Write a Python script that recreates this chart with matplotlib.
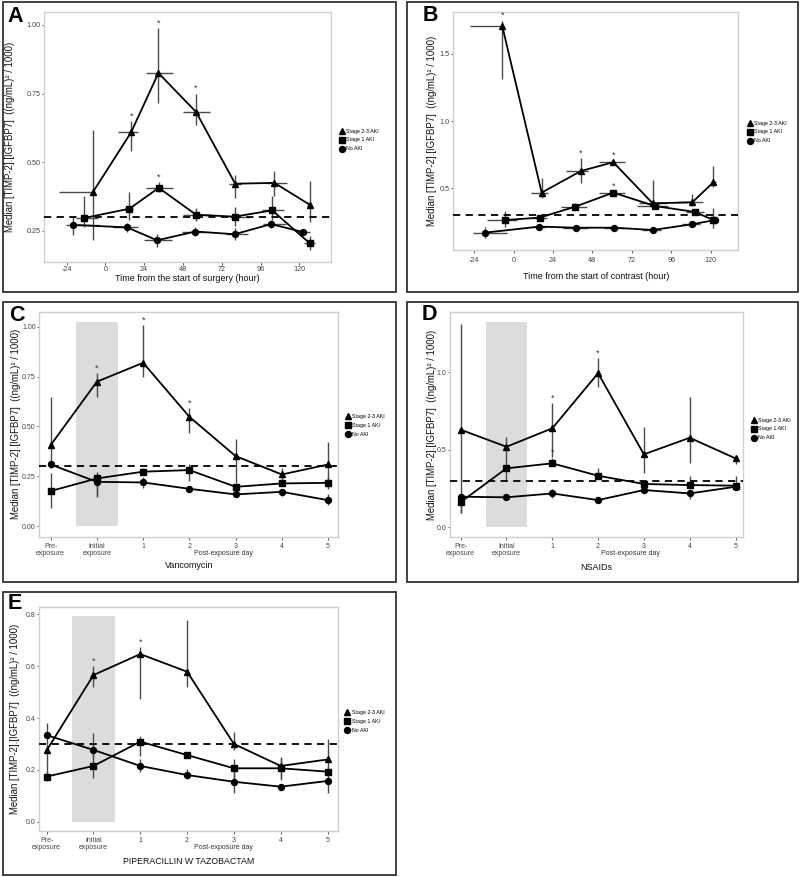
import matplotlib
matplotlib.use("Agg")
import matplotlib.pyplot as plt
from matplotlib.patches import Rectangle
from matplotlib.lines import Line2D

plt.rcParams["font.family"] = ["Liberation Sans", "DejaVu Sans"]
plt.rcParams["axes.unicode_minus"] = False

W, H = 800, 877

series_names = ["Stage 2-3 AKI", "Stage 1 AKI", "No AKI"]
series_markers = ["^", "s", "o"]
ylabel = "Median [TIMP-2].[IGFBP7]  ((ng/mL)\u00b2 / 1000)"
drug_ticks = ["Pre-\nexposure", "Initial\nexposure", "1", "2", "3", "4", "5"]

# ---- Panel A: surgery (hours) ----
a_x = [[-7.8, 15.9, 32.8, 56.1, 80.3, 104.6, 126.3],
       [-13.4, 14.9, 33.0, 56.1, 79.9, 103.2, 126.3],
       [-19.8, 13.4, 32.0, 55.7, 79.9, 102.6, 122.2]]
a_y = [[0.391, 0.609, 0.825, 0.683, 0.422, 0.425, 0.346],
       [0.297, 0.331, 0.407, 0.309, 0.302, 0.325, 0.206],
       [0.272, 0.263, 0.216, 0.248, 0.238, 0.275, 0.246]]
a_xlo = [[-28.5, 7.6, 25.2, 47.9, 76.5, 99.5, 124.5],
         [-18.2, 12.0, 25.2, 48.0, 76.9, 97.1, 123.2],
         [-24.4, 4.5, 24.1, 47.5, 74.7, 97.5, 119.0]]
a_xhi = [[-7.8, 20.0, 41.7, 64.8, 84.0, 112.3, 128.0],
         [-4.7, 17.0, 41.7, 65.8, 89.3, 110.5, 129.4],
         [-3.7, 20.0, 41.3, 62.0, 88.1, 111.5, 126.3]]
a_ylo = [[0.216, 0.540, 0.714, 0.637, 0.370, 0.376, 0.282],
         [0.263, 0.291, 0.390, 0.285, 0.267, 0.291, 0.180],
         [0.237, 0.245, 0.192, 0.230, 0.218, 0.260, 0.235]]
a_yhi = [[0.619, 0.649, 0.989, 0.750, 0.453, 0.467, 0.433],
         [0.376, 0.391, 0.427, 0.334, 0.337, 0.379, 0.231],
         [0.303, 0.278, 0.240, 0.265, 0.262, 0.291, 0.258]]
a_stars = [(0, 1), (0, 2), (0, 3), (1, 2)]

# ---- Panel B: contrast (hours) ----
b_x = [[-6.9, 17.1, 41.0, 60.7, 84.7, 108.8, 121.6],
       [-5.1, 16.0, 37.6, 60.7, 86.1, 110.4, 121.6],
       [-17.5, 15.6, 37.8, 61.1, 84.7, 108.4, 122.6]]
b_y = [[1.708, 0.468, 0.629, 0.694, 0.388, 0.396, 0.545],
       [0.264, 0.282, 0.364, 0.468, 0.368, 0.324, 0.264],
       [0.170, 0.215, 0.207, 0.207, 0.190, 0.232, 0.264]]
b_xlo = [[-26.6, 10.6, 31.9, 52.2, 76.6, 99.2, 120.0],
         [-16.0, 11.0, 28.6, 52.2, 75.4, 104.9, 119.0],
         [-24.9, 12.0, 30.0, 55.0, 78.0, 102.3, 120.5]]
b_xhi = [[-6.9, 21.1, 45.5, 67.8, 93.0, 115.3, 123.0],
         [1.8, 20.1, 44.5, 67.8, 94.2, 115.9, 124.5],
         [-3.8, 19.5, 45.0, 67.0, 90.0, 113.4, 124.5]]
b_ylo = [[1.314, 0.430, 0.542, 0.680, 0.351, 0.370, 0.510],
         [0.215, 0.260, 0.345, 0.455, 0.350, 0.300, 0.202],
         [0.130, 0.200, 0.195, 0.195, 0.180, 0.220, 0.250]]
b_yhi = [[1.748, 0.580, 0.723, 0.710, 0.562, 0.458, 0.666],
         [0.334, 0.300, 0.390, 0.480, 0.380, 0.345, 0.351],
         [0.215, 0.230, 0.220, 0.220, 0.200, 0.245, 0.280]]
b_stars = [(0, 0), (0, 2), (0, 3), (1, 3)]

# ---- Panel C: Vancomycin ----
c_y = [[0.406, 0.724, 0.819, 0.548, 0.351, 0.259, 0.309],
       [0.176, 0.239, 0.273, 0.281, 0.197, 0.214, 0.217],
       [0.309, 0.222, 0.219, 0.187, 0.159, 0.172, 0.130]]
c_ylo = [[0.300, 0.645, 0.746, 0.468, 0.217, 0.230, 0.190],
         [0.089, 0.150, 0.255, 0.226, 0.185, 0.200, 0.185],
         [0.290, 0.147, 0.193, 0.175, 0.148, 0.150, 0.105]]
c_yhi = [[0.649, 0.769, 1.008, 0.590, 0.436, 0.290, 0.423],
         [0.265, 0.272, 0.290, 0.311, 0.210, 0.230, 0.250],
         [0.325, 0.260, 0.244, 0.200, 0.170, 0.185, 0.160]]
c_stars = [(0, 1), (0, 2), (0, 3)]

# ---- Panel D: NSAIDs ----
d_y = [[0.630, 0.520, 0.639, 0.994, 0.471, 0.578, 0.445],
       [0.163, 0.381, 0.413, 0.333, 0.280, 0.273, 0.269],
       [0.198, 0.194, 0.219, 0.176, 0.241, 0.219, 0.262]]
d_ylo = [[0.090, 0.440, 0.456, 0.907, 0.348, 0.417, 0.410],
         [0.090, 0.300, 0.400, 0.320, 0.260, 0.260, 0.250],
         [0.180, 0.185, 0.190, 0.165, 0.225, 0.180, 0.245]]
d_yhi = [[1.310, 0.585, 0.800, 1.090, 0.650, 0.843, 0.460],
         [0.200, 0.450, 0.450, 0.380, 0.300, 0.330, 0.330],
         [0.210, 0.205, 0.245, 0.190, 0.255, 0.240, 0.280]]
d_stars = [(0, 2), (0, 3), (1, 2)]

# ---- Panel E: Piperacillin w tazobactam ----
e_y = [[0.275, 0.566, 0.647, 0.579, 0.300, 0.215, 0.240],
       [0.174, 0.215, 0.309, 0.257, 0.206, 0.206, 0.193],
       [0.334, 0.277, 0.215, 0.180, 0.154, 0.135, 0.157]]
e_ylo = [[0.160, 0.518, 0.472, 0.518, 0.275, 0.170, 0.180],
         [0.155, 0.170, 0.255, 0.245, 0.165, 0.160, 0.180],
         [0.300, 0.250, 0.190, 0.165, 0.110, 0.125, 0.110]]
e_yhi = [[0.300, 0.600, 0.675, 0.778, 0.347, 0.245, 0.320],
         [0.195, 0.341, 0.332, 0.270, 0.240, 0.250, 0.210],
         [0.379, 0.300, 0.240, 0.205, 0.190, 0.145, 0.200]]
e_stars = [(0, 1), (0, 2)]

threshold = 0.3
band_tops = {"C": 1.022, "D": 1.323, "E": 0.794}

fig = plt.figure(figsize=(W / 100, H / 100), dpi=100)


def px_axes(l, r, t, b):
    return fig.add_axes([l / W, 1 - b / H, (r - l) / W, (b - t) / H])


def panel_box(l, t, r, b, letter, lx, ly):
    fig.patches.append(Rectangle((l / W, 1 - b / H), (r - l) / W, (b - t) / H,
                                 transform=fig.transFigure, fill=False,
                                 edgecolor="#333333", linewidth=1.3))
    fig.text(lx / W, 1 - ly / H, letter, fontsize=15.5, fontweight="bold",
             ha="left", va="top")


def style_axes(ax, xpad):
    for s in ax.spines.values():
        s.set_color("#cfcfcf")
        s.set_linewidth(1.0)
    ax.tick_params(axis="both", colors="#444444", labelsize=5.2,
                   length=1.8, width=0.6)
    ax.tick_params(axis="x", pad=xpad)
    ax.tick_params(axis="y", pad=0.8)
    ax.set_facecolor("white")


def draw_series(ax, xs, ys, ylo, yhi, xlo=None, xhi=None, stars=()):
    for i in range(3):
        yerr = [[y - lo for y, lo in zip(ys[i], ylo[i])],
                [hi - y for y, hi in zip(ys[i], yhi[i])]]
        xerr = None
        if xlo is not None:
            xerr = [[x - lo for x, lo in zip(xs[i], xlo[i])],
                    [hi - x for x, hi in zip(xs[i], xhi[i])]]
        ax.errorbar(xs[i], ys[i], yerr=yerr, xerr=xerr, fmt="none",
                    ecolor="#4a4a4a", elinewidth=1.0, capsize=0, zorder=2)
        ms = 5 if series_markers[i] == "^" else 4.3
        ax.plot(xs[i], ys[i], color="black", lw=1.3,
                marker=series_markers[i], ms=ms, zorder=3)
    for si, pi in stars:
        ax.annotate("*", (xs[si][pi], yhi[si][pi]), xytext=(0, 0.3),
                    textcoords="offset points", ha="center", va="bottom",
                    fontsize=6.5, color="#333333")
    ax.axhline(threshold, color="black", lw=1.3, ls=(0, (4, 3)), zorder=4)


def add_legend(ax, fx, fy):
    handles = [Line2D([], [], color="black", lw=0, marker=m,
                      ms=4.3 if m != "^" else 4.8) for m in series_markers]
    ax.legend(handles, series_names, loc="upper left",
              bbox_to_anchor=(fx / W, 1 - fy / H),
              bbox_transform=fig.transFigure, frameon=False, fontsize=3.8,
              handlelength=1.0, handletextpad=0.4, labelspacing=0.75,
              borderpad=0, borderaxespad=0)


def labels(ax, xlabel, xdy, ylx, axh, axw, xfs=6.5):
    ax.text(0.5, -xdy / axh, xlabel, transform=ax.transAxes, ha="center",
            va="center", fontsize=xfs, color="#111111")
    ax.text(ylx / axw, 0.5, ylabel, transform=ax.transAxes, rotation=90,
            ha="center", va="center", fontsize=6.9, color="#111111")


# Panel borders and letters
panel_box(2.5, 2.5, 396, 292, "A", 7, 6)
panel_box(406.5, 2.5, 798, 292, "B", 423, 5)
panel_box(2.5, 301.7, 396, 581.7, "C", 9, 305)
panel_box(406.5, 301.7, 798, 581.7, "D", 422, 304)
panel_box(2.5, 591.7, 396, 875, "E", 8, 593)

# A
ax = px_axes(44, 331, 12, 262)
draw_series(ax, a_x, a_y, a_ylo, a_yhi, a_xlo, a_xhi, a_stars)
ax.set_xlim(-38, 139.6)
ax.set_ylim(0.137, 1.047)
ax.set_xticks([-24, 0, 24, 48, 72, 96, 120])
ax.set_yticks([0.25, 0.5, 0.75, 1.0])
ax.set_yticklabels(["0.25", "0.50", "0.75", "1.00"])
style_axes(ax, 1.0)
labels(ax, "Time from the start of surgery (hour)", 16.5, 10 - 44, 250, 287)
add_legend(ax, 339, 128.5)

# B
ax = px_axes(453.3, 738.3, 12.3, 250)
draw_series(ax, b_x, b_y, b_ylo, b_yhi, b_xlo, b_xhi, b_stars)
ax.set_xlim(-36.7, 136.8)
ax.set_ylim(0.041, 1.81)
ax.set_xticks([-24, 0, 24, 48, 72, 96, 120])
ax.set_yticks([0.5, 1.0, 1.5])
ax.set_yticklabels(["0.5", "1.0", "1.5"])
style_axes(ax, 3.2)
labels(ax, "Time from the start of contrast (hour)", 26.7, 431.7 - 453.3,
       237.7, 285)
add_legend(ax, 747, 120.5)


def drug_panel(box, ys, ylo, yhi, stars, band_top, xlim, ylim, yticks,
               yticklabels, xlabel, ylx, xdy, leg, xfs):
    l, r, t, b = box
    ax = px_axes(l, r, t, b)
    pos = list(range(len(drug_ticks)))
    ax.fill_between([0.55, 1.45], 0, band_top, color="#dcdcdc", lw=0,
                    zorder=1)
    draw_series(ax, [pos] * 3, ys, ylo, yhi, stars=stars)
    ax.set_xlim(*xlim)
    ax.set_ylim(*ylim)
    ax.set_xticks(pos)
    ax.set_xticklabels(drug_ticks, linespacing=1.0)
    ax.set_yticks(yticks)
    ax.set_yticklabels(yticklabels)
    style_axes(ax, 3.0)
    ax.tick_params(axis="x", labelsize=5.0)
    ax.tick_params(axis="y", labelsize=5.0)
    ax.annotate("Post-exposure day", (0.615, 0), xycoords="axes fraction",
                xytext=(0, -12), textcoords="offset points", ha="center",
                va="center", fontsize=5.0, color="#333333")
    labels(ax, xlabel, xdy, ylx - l, b - t, r - l, xfs)
    add_legend(ax, leg[0], leg[1])
    return ax


drug_panel((39.3, 338.3, 311.7, 536.7), c_y, c_ylo, c_yhi, c_stars,
           band_tops["C"], (-0.245, 6.22), (-0.053, 1.075),
           [0, 0.25, 0.5, 0.75, 1.0], ["0.00", "0.25", "0.50", "0.75", "1.00"],
           "Vancomycin", 16, 29, (345, 414), 6.5)
drug_panel((450, 743.3, 312.3, 536.7), d_y, d_ylo, d_yhi, d_stars,
           band_tops["D"], (-0.233, 6.17), (-0.06, 1.387),
           [0, 0.5, 1.0], ["0.0", "0.5", "1.0"],
           "NSAIDs", 431.7, 31, (751, 417.5), 6.5)
drug_panel((39.3, 338.3, 606.7, 830.7), e_y, e_ylo, e_yhi, e_stars,
           band_tops["E"], (-0.157, 6.23), (-0.035, 0.83),
           [0, 0.2, 0.4, 0.6, 0.8], ["0.0", "0.2", "0.4", "0.6", "0.8"],
           "PIPERACILLIN W TAZOBACTAM", 15, 31, (344.7, 710), 6.3)

fig.savefig("out.png", dpi=100)
